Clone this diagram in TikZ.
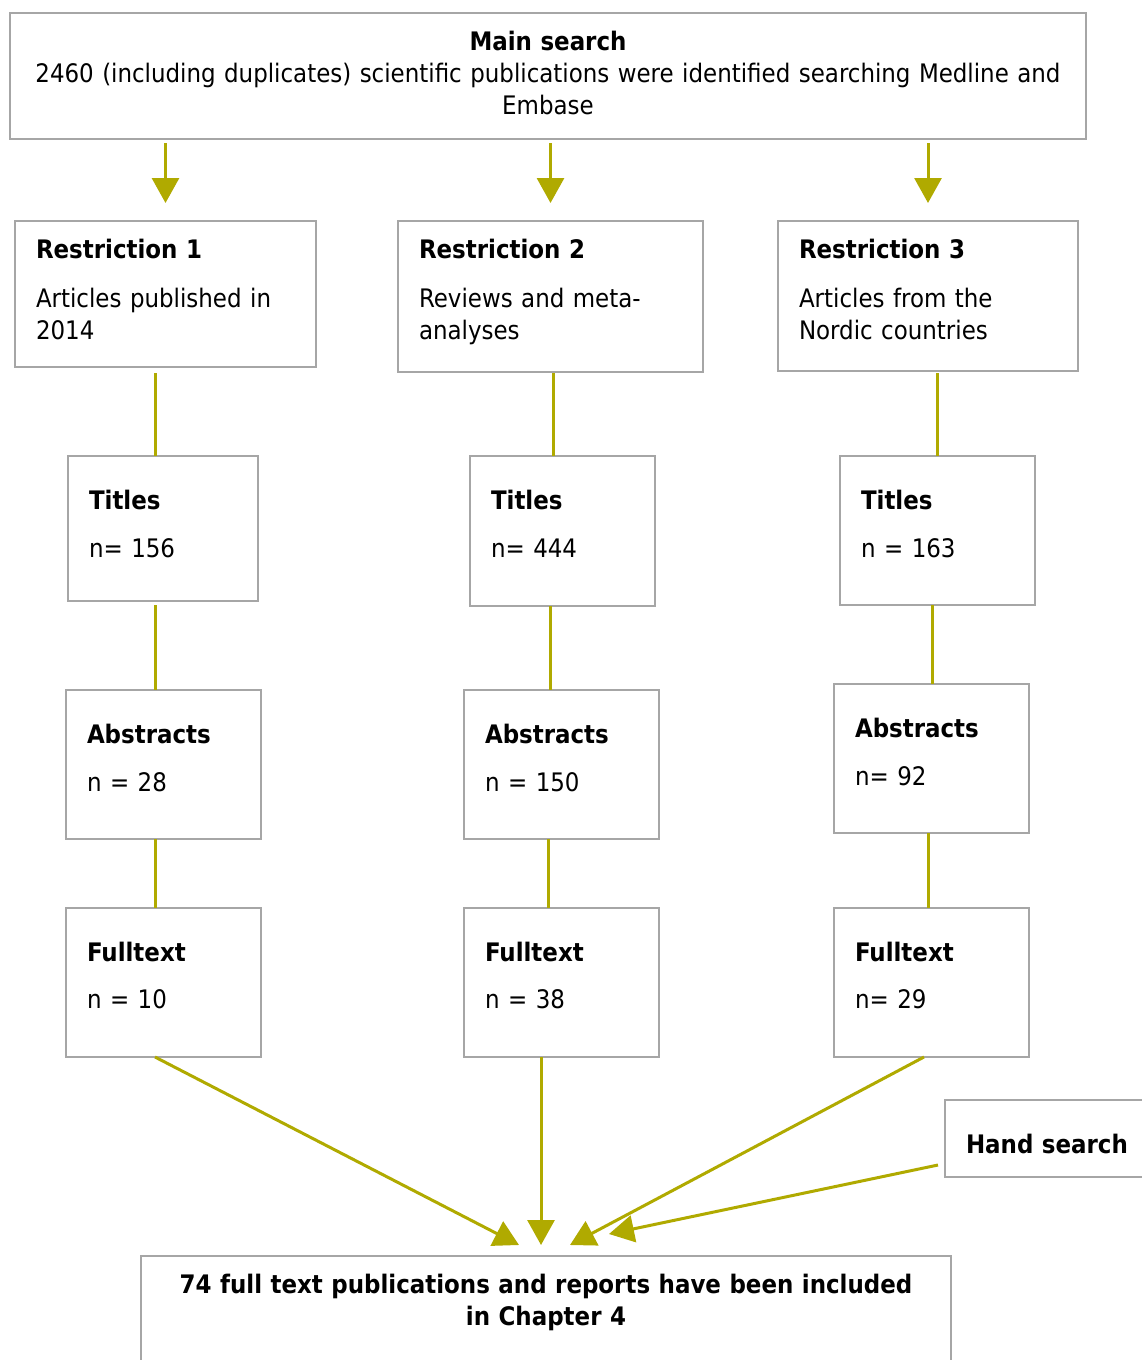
\documentclass[tikz,border=0pt]{standalone}
\usepackage{fontspec}
\setmainfont{DejaVu Sans Condensed}
\usetikzlibrary{arrows.meta,positioning}
\definecolor{boxgray}{RGB}{166,166,166}
\definecolor{linkcol}{RGB}{176,170,0}

\begin{document}
\begin{tikzpicture}[x=1pt,y=-1pt,
		box/.style={draw=boxgray, line width=2.5pt, outer sep=0pt, anchor=north west, align=left, inner xsep=21pt, text height=20pt, font=\fontsize{25.5}{32}\selectfont},
		tight/.style={box, inner ysep=17pt},
		loose/.style={box, inner ysep=33pt},
		link/.style={draw=linkcol, line width=3pt},
		arr/.style={link, -{Triangle[length=25pt,width=27pt]}}]
			\path[use as bounding box, clip] (0,0) rectangle (1142,1360);
			\node[tight, align=center, text width=1034pt, text depth=72pt] (main) at (10,13) {\textbf{Main search}\\2460 (including duplicates) scientific publications were identified searching Medline and\\Embase};
			\node[tight, text width=259pt, text depth=92pt] (r1) at (15,221) {\textbf{Restriction 1}\\[17pt]Articles published in\\2014};
			\node[tight, text width=263pt, text depth=97pt] (r2) at (398,221) {\textbf{Restriction 2}\\[17pt]Reviews and meta-\\analyses};
			\node[tight, text width=258pt, text depth=96pt] (r3) at (778,221) {\textbf{Restriction 3}\\[17pt]Articles from the\\Nordic countries};
			\node[loose, text width=148pt, text depth=59pt] (t1) at (68,456) {\textbf{Titles}\\[16pt]n= 156};
			\node[loose, text width=143pt, text depth=64pt] (t2) at (470,456) {\textbf{Titles}\\[16pt]n= 444};
			\node[loose, text width=153pt, text depth=63pt] (t3) at (840,456) {\textbf{Titles}\\[16pt]n = 163};
			\node[loose, text width=153pt, text depth=63pt] (a1) at (66,690) {\textbf{Abstracts}\\[16pt]n = 28};
			\node[loose, text width=153pt, text depth=63pt] (a2) at (464,690) {\textbf{Abstracts}\\[16pt]n = 150};
			\node[loose, text width=153pt, text depth=63pt] (a3) at (834,684) {\textbf{Abstracts}\\[16pt]n= 92};
			\node[loose, text width=153pt, text depth=63pt] (f1) at (66,908) {\textbf{Fulltext}\\[15pt]n = 10};
			\node[loose, text width=153pt, text depth=63pt] (f2) at (464,908) {\textbf{Fulltext}\\[15pt]n = 38};
			\node[loose, text width=153pt, text depth=63pt] (f3) at (834,908) {\textbf{Fulltext}\\[15pt]n= 29};
			\node[box, inner ysep=13pt, text height=40pt, text depth=11pt, text width=188pt] (hand) at (945,1100) {\textbf{Hand search}};
			\node[tight, align=center, text width=768pt, text depth=120pt] (fin) at (141,1256) {\textbf{74 full text publications and reports have been included}\\\textbf{in Chapter 4}};
			\draw[arr] ([yshift=-4pt]main.south -| r1.north) -- ([yshift=18pt]r1.north);
			\draw[arr] ([yshift=-4pt]main.south -| r2.north) -- ([yshift=18pt]r2.north);
			\draw[arr] ([yshift=-4pt]main.south -| r3.north) -- ([yshift=18pt]r3.north);
			\draw[link] ([xshift=-10.5pt,yshift=-6pt]r1.south) -- ([xshift=-8pt]t1.north);
			\draw[link] ([xshift=-8pt,yshift=-4pt]t1.south) -- ([xshift=-8.5pt]a1.north);
			\draw[link] ([xshift=-8.5pt]a1.south) -- ([xshift=-8.5pt]f1.north);
			\draw[link] ([xshift=2.5pt,yshift=-1pt]r2.south) -- ([xshift=-9.5pt]t2.north);
			\draw[link] ([xshift=-12.5pt]t2.south) -- ([xshift=-11.5pt]a2.north);
			\draw[link] ([xshift=-13.5pt]a2.south) -- ([xshift=-13.5pt]f2.north);
			\draw[link] ([xshift=9pt,yshift=-2pt]r3.south) -- ([xshift=-0.5pt]t3.north);
			\draw[link] ([xshift=-5.5pt]t3.south) -- ([xshift=0.5pt]a3.north);
			\draw[link] ([xshift=-3.5pt]a3.south) -- ([xshift=-3.5pt]f3.north);
			\draw[arr] ([xshift=-8.5pt]f1.south) -- ([xshift=-27pt,yshift=11pt]fin.north);
			\draw[arr] ([xshift=-20.5pt]f2.south) -- ([xshift=-5pt,yshift=11pt]fin.north);
			\draw[arr] ([xshift=-7.5pt]f3.south) -- ([xshift=24pt,yshift=11pt]fin.north);
			\draw[arr] ([xshift=-7pt,yshift=12pt]hand.south west) -- ([xshift=63pt,yshift=22pt]fin.north);
		\end{tikzpicture}
\end{document}
